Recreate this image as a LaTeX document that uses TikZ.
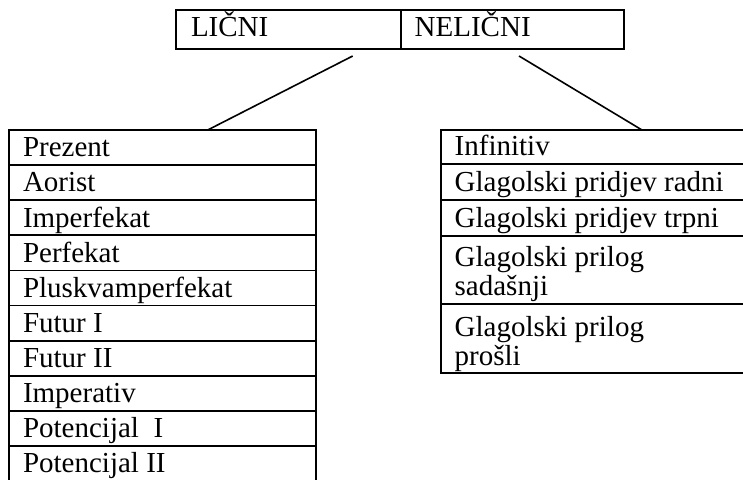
\documentclass[tikz,border=0pt]{standalone}
\usepackage{fontspec}
\setmainfont{Liberation Serif}
\usetikzlibrary{calc}
% left-aligned cell text, baseline on the last line
\newcommand\celltext[2]{\makebox[#1][l]{\begin{tabular}[b]{@{}l@{}}#2\end{tabular}}}

\begin{document}
\begin{tikzpicture}[x=1pt,y=-1pt,
  every node/.style={font=\fontsize{29}{29}\selectfont},
  box/.style={draw, line width=1.8pt, inner xsep=14pt, inner ysep=0pt,
              outer sep=0pt, text depth=8.3pt, anchor=north west},
  lrow/.style={box, text height=26.8pt},
  conn/.style={line width=1.6pt}]
\useasboundingbox (0,0) rectangle (743,479);
\clip (0,0) rectangle (743,479);

% header
\node[box, text height=26pt, text depth=13pt, inner xsep=15pt] (lic) at (176,10)
  {\celltext{194.7pt}{LIČNI}};
\node[box, text height=26pt, text depth=13pt] (nel) at (lic.north east)
  {\celltext{195.3pt}{NELIČNI}};

% personal forms
\node[lrow] (l1) at (9,130) {\celltext{278.7pt}{Prezent}};
\node[lrow] (l2) at (l1.south west) {\celltext{278.7pt}{Aorist}};
\node[lrow] (l3) at (l2.south west) {\celltext{278.7pt}{Imperfekat}};
\node[lrow] (l4) at (l3.south west) {\celltext{278.7pt}{Perfekat}};
\node[lrow] (l5) at (l4.south west) {\celltext{278.7pt}{Pluskvamperfekat}};
\node[lrow] (l6) at (l5.south west) {\celltext{278.7pt}{Futur I}};
\node[lrow] (l7) at (l6.south west) {\celltext{278.7pt}{Futur II}};
\node[lrow] (l8) at (l7.south west) {\celltext{278.7pt}{Imperativ}};
\node[lrow] (l9) at (l8.south west) {\celltext{278.7pt}{Potencijal\ \ I}};
\node[lrow] (l10) at (l9.south west) {\celltext{278.7pt}{Potencijal II}};

% impersonal forms
\node[box, text height=25.7pt] (r1) at (440.7,130) {\celltext{302pt}{Infinitiv}};
\node[box, text height=27.7pt] (r2) at (r1.south west) {\celltext{302pt}{Glagolski pridjev radni}};
\node[box, text height=27.4pt] (r3) at (r2.south west) {\celltext{302pt}{Glagolski pridjev trpni}};
\node[box, text height=60pt] (r4) at (r3.south west) {\celltext{302pt}{Glagolski prilog\\sadašnji}};
\node[box, text height=61pt] (r5) at (r4.south west) {\celltext{302pt}{Glagolski prilog\\prošli}};

% connectors
\draw[conn] ($(lic.south west)+(176.7,7)$) -- ($(l1.north west)+(198.7,0)$);
\draw[conn] ($(nel.south west)+(118.3,7)$) -- ($(r1.north west)+(201.3,0)$);
\end{tikzpicture}
\end{document}
